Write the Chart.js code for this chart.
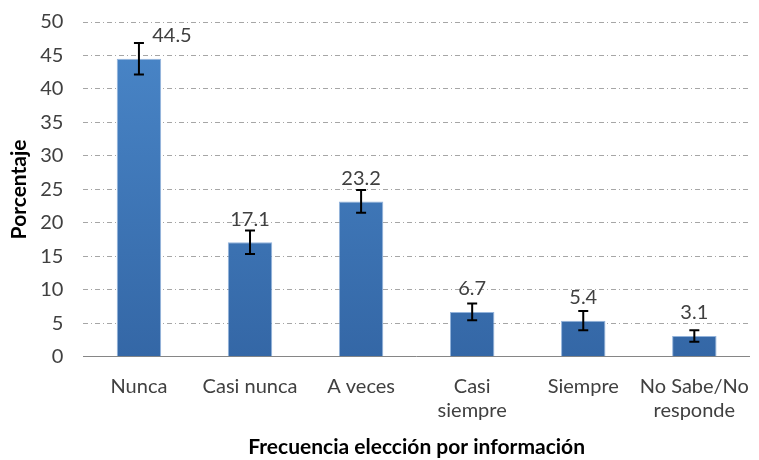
<!DOCTYPE html>
<html>
<head>
<meta charset="utf-8">
<script src="https://cdn.jsdelivr.net/npm/chart.js@4"></script>
<style>
  html, body { margin: 0; padding: 0; background: #fff; }
  #grafico { display: block; }
</style>
</head>
<body>
<canvas id="grafico" width="759" height="460"></canvas>
<script>
const categorias = ["Nunca", "Casi nunca", "A veces", ["Casi", "siempre"], "Siempre", ["No Sabe/No", "responde"]];
const porcentajes = [44.5, 17.1, 23.2, 6.7, 5.4, 3.1];
const errores = [2.35, 1.75, 1.7, 1.25, 1.45, 0.85];
const marcasY = [0, 5, 10, 15, 20, 25, 30, 35, 40, 45, 50];

const fuente = "Lato, 'Open Sans', sans-serif";

// error bars and value labels drawn on top of the bars
const barrasError = {
  id: "barrasError",
  afterDatasetsDraw(chart) {
    const ctx = chart.ctx;
    const escalaY = chart.scales.y;
    const meta = chart.getDatasetMeta(0);
    ctx.save();
    meta.data.forEach((barra, i) => {
      const v = porcentajes[i];
      const e = errores[i];
      const x = barra.x;
      const yAlto = escalaY.getPixelForValue(v + e);
      const yBajo = escalaY.getPixelForValue(v - e);
      ctx.strokeStyle = "#000";
      ctx.lineWidth = 2;
      ctx.beginPath();
      ctx.moveTo(x, yAlto); ctx.lineTo(x, yBajo);
      ctx.moveTo(x - 5, yAlto); ctx.lineTo(x + 5, yAlto);
      ctx.moveTo(x - 5, yBajo); ctx.lineTo(x + 5, yBajo);
      ctx.stroke();

      // label sits above the bar; moves aside if the error cap gets in the way
      const ty = barra.y - 23;
      let tx = x;
      if (yAlto < ty + 9) tx = x + 33;
      ctx.fillStyle = "#404040";
      ctx.font = "20px " + fuente;
      ctx.textAlign = "center";
      ctx.textBaseline = "middle";
      ctx.fillText(v.toFixed(1), tx, ty);
    });
    ctx.restore();
  }
};

function degradado(context) {
  const area = context.chart.chartArea;
  if (!area) return "#3f7bbf";
  const g = context.chart.ctx.createLinearGradient(0, area.top, 0, area.bottom);
  g.addColorStop(0, "#4a87c9");
  g.addColorStop(1, "#3467a6");
  return g;
}

new Chart(document.getElementById("grafico"), {
  type: "bar",
  data: {
    labels: categorias,
    datasets: [{
      data: porcentajes,
      backgroundColor: degradado,
      borderColor: "rgba(120,160,210,0.8)",
      borderWidth: 1,
      barPercentage: 0.4,
      categoryPercentage: 1
    }]
  },
  options: {
    responsive: false,
    animation: false,
    layout: { padding: { top: 0, right: 1, left: 7, bottom: 0 } },
    plugins: {
      legend: { display: false },
      tooltip: { enabled: false }
    },
    scales: {
      x: {
        grid: { display: false },
        border: { display: true, color: "#868686", width: 1 },
        ticks: {
          color: "#404040",
          font: { family: fuente, size: 20, lineHeight: 1.2 },
          padding: 10,
          maxRotation: 0,
          autoSkip: false
        },
        title: {
          display: true,
          text: "Frecuencia elección por información",
          color: "#000",
          font: { family: fuente, size: 21, weight: "bold" },
          padding: { top: 2, bottom: 0 }
        }
      },
      y: {
        min: 0,
        max: 50,
        afterBuildTicks(scale) {
          scale.ticks = marcasY.map(v => ({ value: v }));
        },
        grid: {
          color: "#a6a6a6",
          lineWidth: 1,
          drawTicks: false
        },
        border: { display: false, dash: [5, 3, 1, 3] },
        ticks: {
          color: "#404040",
          font: { family: fuente, size: 20, lineHeight: 0.2 },
          padding: 20
        },
        title: {
          display: true,
          text: "Porcentaje",
          color: "#000",
          font: { family: fuente, size: 21, weight: "bold" },
          padding: { top: 0, bottom: -12 }
        }
      }
    }
  },
  plugins: [barrasError]
});
</script>
</body>
</html>
